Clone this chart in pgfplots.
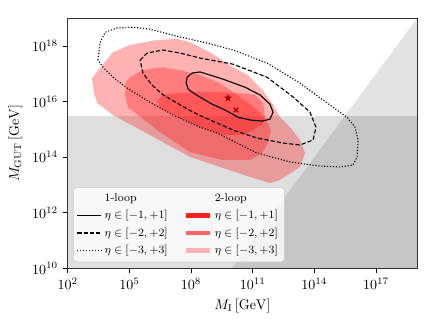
\documentclass[border=0pt]{standalone}
\usepackage{pgfplots}
\pgfplotsset{compat=1.18}

% filled five-pointed star
\pgfdeclareplotmark{fstar}{%
  \pgfpathmoveto{\pgfpointpolar{90}{\pgfplotmarksize}}%
  \pgfpathlineto{\pgfpointpolar{126}{0.42\pgfplotmarksize}}%
  \pgfpathlineto{\pgfpointpolar{162}{\pgfplotmarksize}}%
  \pgfpathlineto{\pgfpointpolar{198}{0.42\pgfplotmarksize}}%
  \pgfpathlineto{\pgfpointpolar{234}{\pgfplotmarksize}}%
  \pgfpathlineto{\pgfpointpolar{270}{0.42\pgfplotmarksize}}%
  \pgfpathlineto{\pgfpointpolar{306}{\pgfplotmarksize}}%
  \pgfpathlineto{\pgfpointpolar{342}{0.42\pgfplotmarksize}}%
  \pgfpathlineto{\pgfpointpolar{18}{\pgfplotmarksize}}%
  \pgfpathlineto{\pgfpointpolar{54}{0.42\pgfplotmarksize}}%
  \pgfpathclose\pgfusepathqfillstroke}

\definecolor{mkred}{HTML}{A80000}
\definecolor{leg1}{HTML}{FF2020}
\definecolor{leg2}{HTML}{FF6464}
\definecolor{leg3}{HTML}{FFB2B2}

\begin{document}
\begin{tikzpicture}
\useasboundingbox (-48.4pt,-41.9pt) rectangle (263.1pt,191.7pt);
\begin{axis}[
  at={(0,0)}, anchor=south west,
  scale only axis, width=249.6pt, height=178.6pt,
  xmin=2, xmax=19, ymin=10, ymax=19,
  xtick={2,5,8,11,14,17},
  xticklabels={$10^{2}$,$10^{5}$,$10^{8}$,$10^{11}$,$10^{14}$,$10^{17}$},
  ytick={10,12,14,16,18},
  yticklabels={$10^{10}$,$10^{12}$,$10^{14}$,$10^{16}$,$10^{18}$},
  xtick pos=bottom, ytick pos=left,
  tick align=outside, major tick length=3.5pt,
  tick style={black, line width=0.6pt},
  axis line style={black!80, line width=0.8pt},
  xlabel={$M_{\mathrm{I}}\,[\mathrm{GeV}]$},
  ylabel={$M_{\mathrm{GUT}}\,[\mathrm{GeV}]$},
  legend columns=2,
  legend cell align=left,
  legend style={at={(0.015,0.025)}, anchor=south west,
    font=\fontsize{8}{9.5}\selectfont,
    fill=white, fill opacity=0.8, text opacity=1, draw=black!20,
    rounded corners=2pt, row sep=0.8pt, inner sep=2.5pt,
    /tikz/every even column/.append style={column sep=9pt}},
]

% excluded regions
\addplot[draw=none, fill=black, fill opacity=0.13, forget plot]
  coordinates {(2,10) (19,10) (19,15.5) (2,15.5)} -- cycle;
\addplot[draw=none, fill=black, fill opacity=0.11, forget plot]
  coordinates {(10,10) (19,19) (19,10)} -- cycle;

% 2-loop regions
\addplot[draw=none, fill=red, fill opacity=0.3, forget plot] coordinates {
  (3.18,16.85) (4.20,17.78) (5.03,18.04) (6.35,18.22) (7.32,18.26)
  (7.95,18.14) (8.92,17.78) (10.04,17.24) (10.77,16.96) (11.46,16.42)
  (11.94,15.95) (12.33,15.44) (12.82,15.08) (13.30,14.62) (13.55,14.15)
  (13.30,13.65) (12.33,13.18) (11.84,13.07) (10.87,13.29) (7.95,14.01)
  (6.00,14.80) (4.20,15.52) (3.43,15.95) (3.28,16.31)} -- cycle;
\addplot[draw=none, fill=red, fill opacity=0.3, forget plot] coordinates {
  (4.84,16.70) (5.03,16.88) (5.66,17.14) (6.64,17.24) (7.37,17.14)
  (8.44,16.96) (9.41,16.67) (10.38,16.17) (11.12,15.77) (11.60,15.41)
  (11.89,14.98) (11.75,14.51) (11.46,14.15) (10.87,13.90) (9.56,13.90)
  (7.95,14.18) (6.49,14.90) (5.42,15.52) (4.93,15.80) (4.79,16.24)} -- cycle;
\addplot[draw=none, fill=red, fill opacity=0.3, forget plot] coordinates {
  (6.35,16.06) (6.73,16.27) (7.95,16.34) (9.17,16.34) (10.38,16.31)
  (11.12,16.24) (11.51,15.95) (11.60,15.41) (11.46,15.16) (10.53,14.80)
  (9.56,14.80) (8.44,15.08) (6.49,15.77)} -- cycle;

% 1-loop contours
\addplot[black, line width=0.8pt, forget plot] coordinates {
  (7.76,16.67) (7.81,16.88) (8.05,17.03) (8.44,17.07) (9.56,16.81)
  (10.63,16.52) (11.36,16.24) (11.84,15.91) (11.99,15.62) (11.84,15.37)
  (11.46,15.30) (10.87,15.34) (10.29,15.44) (9.65,15.70) (8.92,15.95)
  (8.20,16.27) (7.86,16.45)} -- cycle;
\addplot[black, line width=0.8pt, dash pattern=on 3pt off 1.5pt, forget plot] coordinates {
  (5.52,17.50) (5.86,17.75) (6.64,17.86) (7.46,17.75) (8.44,17.57)
  (10.04,17.35) (11.70,16.88) (12.96,16.17) (13.79,15.62) (14.08,15.08)
  (13.94,14.62) (13.30,14.44) (12.48,14.51) (11.21,14.69) (10.04,14.98)
  (8.92,15.34) (8.10,15.62) (7.32,15.95) (6.64,16.24) (6.10,16.60)
  (5.66,17.03)} -- cycle;
\addplot[black, line width=0.8pt, dash pattern=on 0.8pt off 1.3pt, forget plot] coordinates {
  (3.47,17.50) (3.57,18.11) (3.82,18.50) (4.40,18.65) (5.18,18.68)
  (6.00,18.61) (7.46,18.33) (8.78,18.11) (10.04,17.86) (11.70,17.39)
  (13.30,16.67) (14.62,15.95) (15.59,15.44) (15.98,15.08) (16.13,14.62)
  (16.08,14.01) (15.88,13.72) (15.25,13.65) (14.28,13.68) (12.82,13.83)
  (11.21,14.15) (9.27,14.87) (8.44,15.08) (7.12,15.52) (6.00,15.98)
  (4.89,16.49) (4.20,16.88) (3.72,17.24)} -- cycle;

% best-fit points
\addplot[only marks, mark=fstar, mark size=2.4pt, color=mkred, forget plot]
  coordinates {(9.80,16.13)};
\addplot[only marks, mark=x, mark size=2.3pt, color=mkred, line width=0.9pt, forget plot]
  coordinates {(10.19,15.70)};

% legend
\addlegendimage{empty legend}
\addlegendentry{1-loop}
\addlegendimage{empty legend}
\addlegendentry{2-loop}
\addlegendimage{black, line width=0.8pt}
\addlegendentry{$\eta\in[-1,+1]$}
\addlegendimage{leg1, line width=3.5pt}
\addlegendentry{$\eta\in[-1,+1]$}
\addlegendimage{black, line width=0.8pt, dash pattern=on 3pt off 1.5pt}
\addlegendentry{$\eta\in[-2,+2]$}
\addlegendimage{leg2, line width=3.5pt}
\addlegendentry{$\eta\in[-2,+2]$}
\addlegendimage{black, line width=0.8pt, dash pattern=on 0.8pt off 1.3pt}
\addlegendentry{$\eta\in[-3,+3]$}
\addlegendimage{leg3, line width=3.5pt}
\addlegendentry{$\eta\in[-3,+3]$}

\end{axis}
\end{tikzpicture}
\end{document}
